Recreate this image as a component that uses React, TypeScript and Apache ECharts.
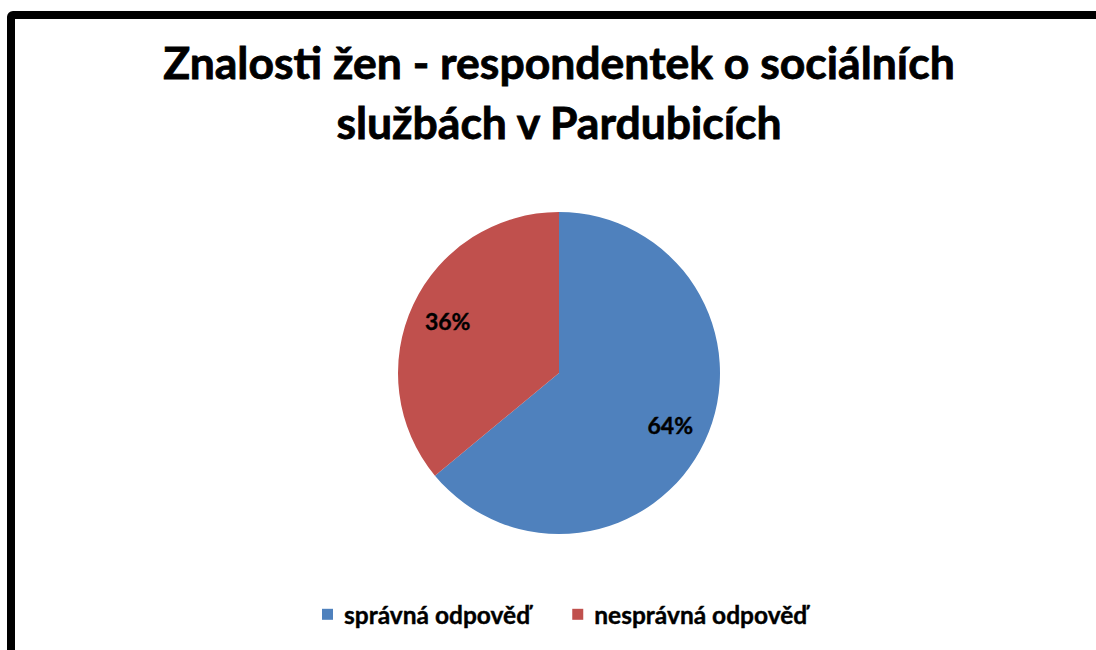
import React, { useEffect, useRef } from "react";
import * as echarts from "echarts";

const titleLines = ["Znalosti žen - respondentek o sociálních", "službách v Pardubicích"];
const categories = ["správná odpověď", "nesprávná odpověď"];
const values = [64, 36];
const colors = ["#4F81BD", "#C0504D"];

export default function App() {
  const ref = useRef<HTMLDivElement>(null);
  useEffect(() => {
    if (!ref.current) return;
    const chart = echarts.init(ref.current, null, { renderer: "svg" });
    const data = categories.map((name, i) => ({ name, value: values[i], itemStyle: { color: colors[i] } }));
    chart.setOption({
      animation: false,
      backgroundColor: "#ffffff",
      textStyle: { fontFamily: "Lato" },
      title: {
        text: titleLines.join("\n"),
        left: 554,
        textAlign: "center",
        top: 26,
        textStyle: {
          fontFamily: "Lato",
          fontWeight: "bold",
          fontSize: 44.5,
          lineHeight: 60,
          color: "#000",
          textBorderColor: "#000",
          textBorderWidth: 0.8,
        },
      },
      legend: {
        data: categories,
        bottom: 18,
        left: 317,
        itemWidth: 11,
        itemHeight: 11,
        itemGap: 42,
        icon: "rect",
        textStyle: {
          fontFamily: "Lato",
          fontWeight: "bold",
          fontSize: 24.5,
          color: "#000",
          textBorderColor: "#000",
          textBorderWidth: 0.4,
          padding: [0, 0, 0, 6],
        },
      },
      graphic: [
        {
          type: "rect",
          shape: { x: 11, y: 15, width: 1200, height: 800, r: 2 },
          style: { fill: "none", stroke: "#000", lineWidth: 8 },
          silent: true,
        },
      ],
      series: [
        {
          type: "pie",
          center: [559, 373],
          radius: [0, 161],
          startAngle: 90,
          clockwise: true,
          label: { show: false },
          labelLine: { show: false },
          data,
        },
        {
          type: "pie",
          center: [559, 373],
          radius: [79, 161],
          startAngle: 90,
          clockwise: true,
          silent: true,
          itemStyle: { color: "rgba(0,0,0,0)" },
          label: {
            show: true,
            position: "inside",
            formatter: "{c}%",
            fontFamily: "Lato",
            fontWeight: "bold",
            fontSize: 23,
            color: "#000",
            textBorderColor: "#000",
            textBorderWidth: 0.4,
          },
          labelLine: { show: false },
          data: categories.map((name, i) => ({ name: name + " ", value: values[i] })),
        },
      ],
    });
    return () => chart.dispose();
  }, []);
  return <div ref={ref} style={{ position: "fixed", left: 0, top: 0, width: 1096, height: 650 }} />;
}
